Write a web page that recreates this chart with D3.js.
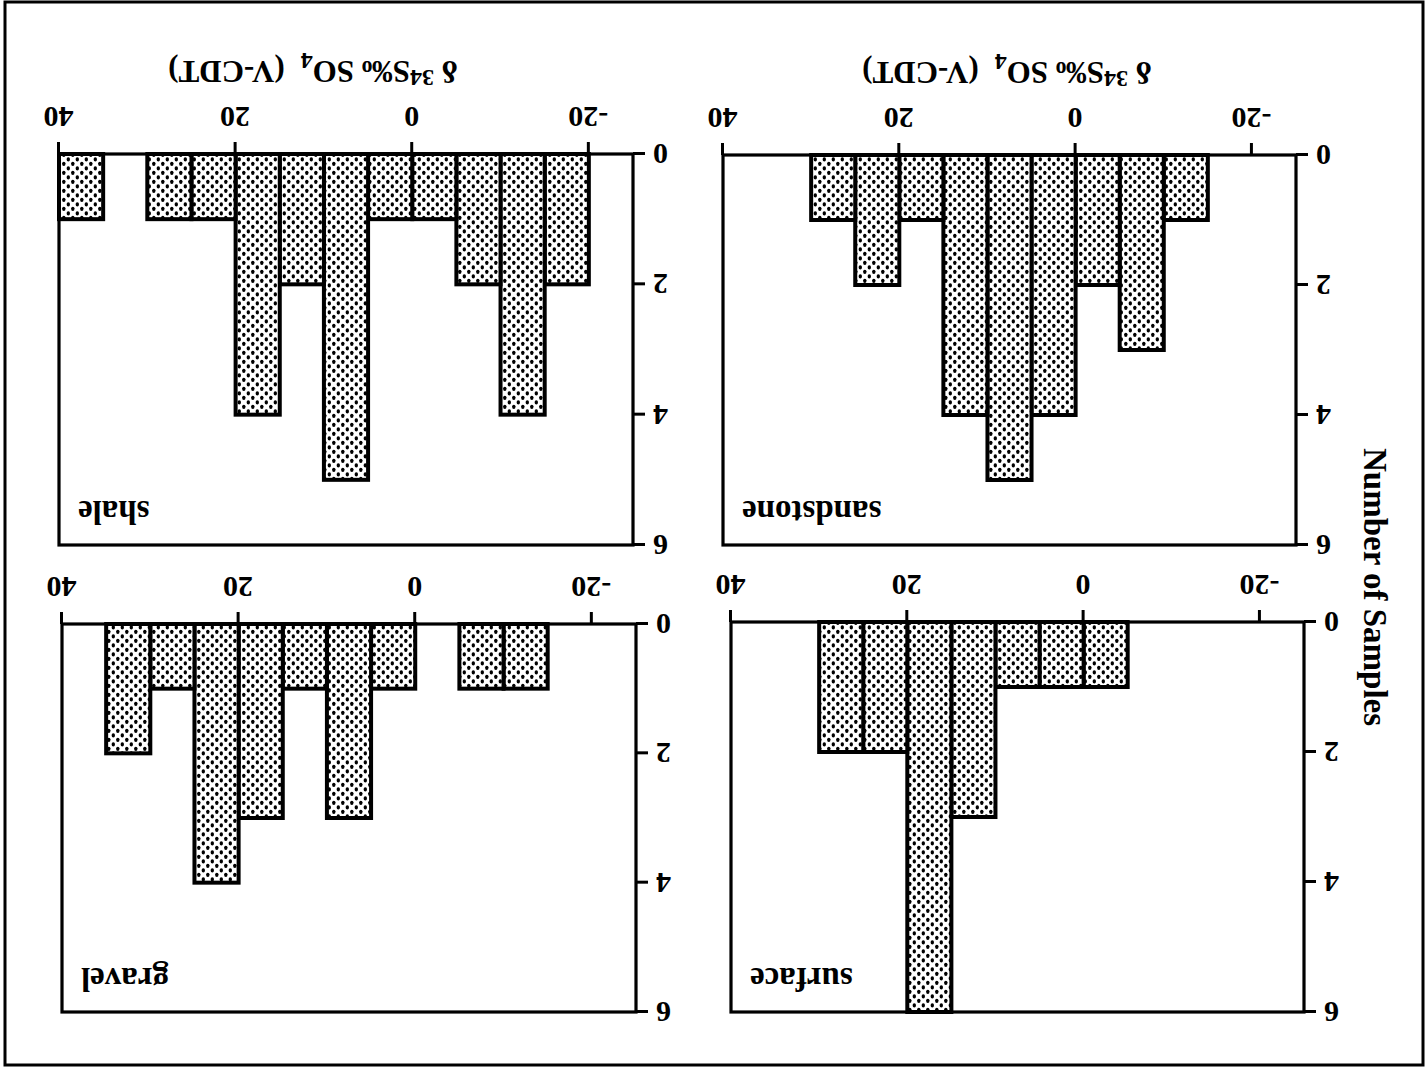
<!DOCTYPE html>
<html>
<head>
<meta charset="utf-8">
<script src="https://cdn.jsdelivr.net/npm/d3@7"></script>
<style>
  body { margin: 0; background: #fff; }
  svg { display: block; }
  text { font-family: "Liberation Serif", "Times New Roman", serif; font-weight: bold; fill: #000; }
</style>
</head>
<body>
<script>
// Histogram bins: lower edge of each 5‰ class, from -25 to 40
const binLower = [-25, -20, -15, -10, -5, 0, 5, 10, 15, 20, 25, 30, 35];
const binWidth = 5;

// Number of samples in each bin, per lithology
const surfaceCounts   = [0, 0, 0, 0, 1, 1, 1, 3, 6, 2, 2, 0, 0];
const gravelCounts    = [0, 0, 1, 1, 0, 1, 3, 1, 3, 4, 1, 2, 0];
const sandstoneCounts = [0, 0, 1, 3, 2, 4, 5, 4, 1, 2, 1, 0, 0];
const shaleCounts     = [0, 2, 4, 2, 1, 1, 5, 2, 4, 1, 1, 0, 1];

const panelNames = ["surface", "gravel", "sandstone", "shale"];
const valueTicks = [-20, 0, 20, 40];
const countTicks = [0, 2, 4, 6];
const valueDomain = [-25, 40];
const countDomain = [0, 6];
const countTitle = "Number of Samples";

const countsByPanel = {
  surface: surfaceCounts,
  gravel: gravelCounts,
  sandstone: sandstoneCounts,
  shale: shaleCounts
};

// Frame of each panel (x at -25 and 40, y at 0 and 6 samples)
const frames = {
  surface:   { x0: 121, x1: 694,  y0: 453, y1: 63,  title: null },
  gravel:    { x0: 789, x1: 1363, y0: 451, y1: 63,  title: null },
  sandstone: { x0: 129, x1: 702,  y0: 920, y1: 530, title: 418 },
  shale:     { x0: 792, x1: 1366, y0: 921, y1: 530, title: 1112 }
};

const W = 1425, H = 1075;
const svg = d3.select("body").append("svg")
  .attr("width", W).attr("height", H);

const defs = svg.append("defs");
const pat = defs.append("pattern")
  .attr("id", "stipple")
  .attr("patternUnits", "userSpaceOnUse")
  .attr("width", 9).attr("height", 9);
pat.append("rect").attr("width", 9).attr("height", 9).attr("fill", "#fff");
pat.append("ellipse").attr("cx", 2.2).attr("cy", 2.2).attr("rx", 1.7).attr("ry", 2.1).attr("fill", "#000");
pat.append("ellipse").attr("cx", 6.7).attr("cy", 6.7).attr("rx", 1.7).attr("ry", 2.1).attr("fill", "#000");

// The whole figure is printed turned half a turn
const root = svg.append("g")
  .attr("transform", `rotate(180 ${W / 2} ${H / 2})`);

// outer border
root.append("rect")
  .attr("x", 2).attr("y", 10)
  .attr("width", 1418).attr("height", 1063)
  .attr("fill", "none").attr("stroke", "#000").attr("stroke-width", 3);

panelNames.forEach(name => {
  const f = frames[name];
  const counts = countsByPanel[name];
  const x = d3.scaleLinear().domain(valueDomain).range([f.x0, f.x1]);
  const y = d3.scaleLinear().domain(countDomain).range([f.y0, f.y1]);
  const g = root.append("g");

  const bins = binLower.map((b, i) => ({ lo: b, hi: b + binWidth, n: counts[i] }))
    .filter(d => d.n > 0);

  g.selectAll("rect.bar").data(bins).join("rect")
    .attr("class", "bar")
    .attr("x", d => x(d.lo))
    .attr("width", d => x(d.hi) - x(d.lo))
    .attr("y", d => y(d.n))
    .attr("height", d => y(0) - y(d.n))
    .attr("fill", "url(#stipple)")
    .attr("stroke", "#000")
    .attr("stroke-width", 4);

  // panel box
  g.append("rect")
    .attr("x", x(valueDomain[0])).attr("y", y(countDomain[1]))
    .attr("width", x(valueDomain[1]) - x(valueDomain[0]))
    .attr("height", y(countDomain[0]) - y(countDomain[1]))
    .attr("fill", "none").attr("stroke", "#000").attr("stroke-width", 3.2);

  const xAxis = g.append("g")
    .attr("transform", `translate(0,${y(0)})`)
    .call(d3.axisBottom(x).tickValues(valueTicks).tickSize(12).tickPadding(14).tickFormat(d => String(d)));
  const yAxis = g.append("g")
    .attr("transform", `translate(${x(valueDomain[0])},0)`)
    .call(d3.axisLeft(y).tickValues(countTicks).tickSize(12).tickPadding(8).tickFormat(d => String(d)));

  [xAxis, yAxis].forEach(a => {
    a.select(".domain").remove();
    a.selectAll(".tick line").attr("stroke", "#000").attr("stroke-width", 3);
    a.selectAll(".tick text")
      .attr("fill", "#000")
      .style("font-family", "'Liberation Serif', serif")
      .style("font-weight", "bold")
      .style("font-size", "30px");
  });

  // lithology label in the upper right corner of the panel
  g.append("text")
    .attr("x", x(valueDomain[1]) - 19)
    .attr("y", y(countDomain[1]) + 44)
    .attr("text-anchor", "end")
    .style("font-size", "33px")
    .text(name);

  if (f.title !== null) {
    const t = g.append("text")
      .attr("x", f.title)
      .attr("y", f.y0 + 93)
      .attr("text-anchor", "middle")
      .style("font-size", "31px");
    t.append("tspan").text("δ ");
    t.append("tspan").attr("dy", -9).style("font-size", "24px").text("34");
    t.append("tspan").attr("dy", 9).text("S‰ SO");
    t.append("tspan").attr("dy", 8).style("font-size", "24px").text("4");
    t.append("tspan").attr("dy", -8).attr("dx", 16).text("(V-CDT)");
  }
});

// shared count axis title
root.append("text")
  .attr("transform", "translate(61,488) rotate(-90)")
  .attr("text-anchor", "middle")
  .style("font-size", "33px")
  .text(countTitle);
</script>
</body>
</html>
